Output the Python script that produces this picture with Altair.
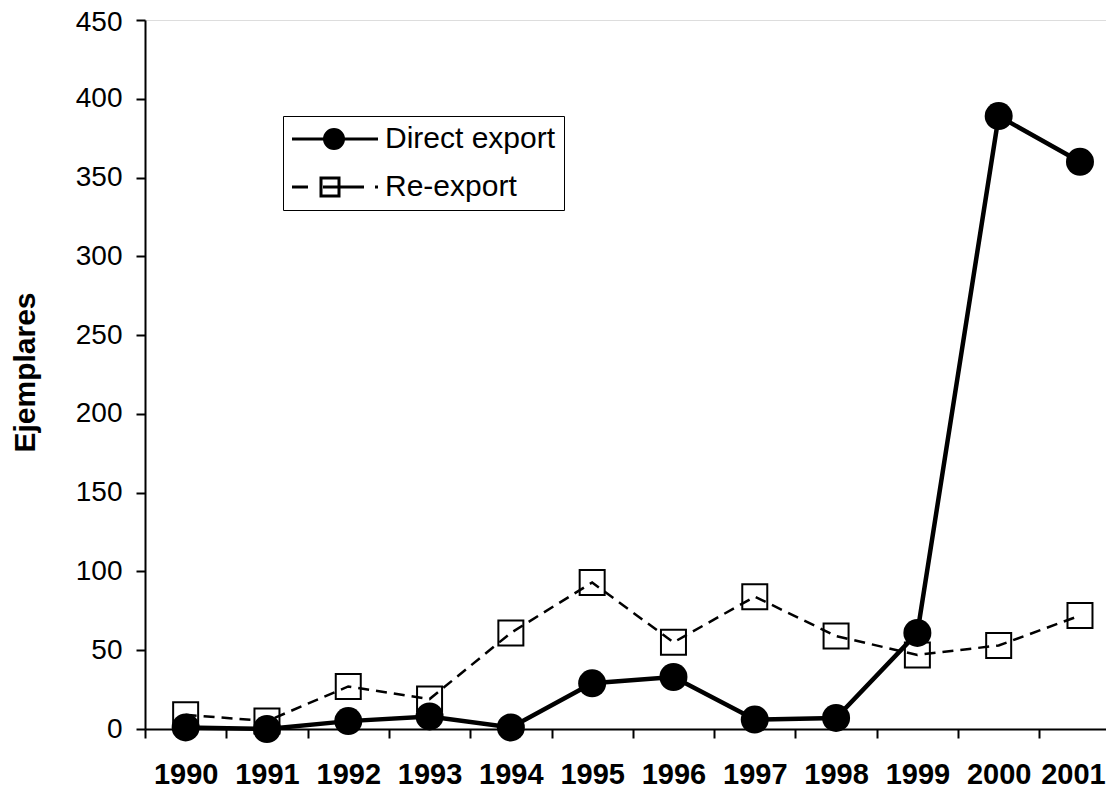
import altair as alt
import pandas as pd

years = [1990, 1991, 1992, 1993, 1994, 1995, 1996, 1997, 1998, 1999, 2000, 2001]
direct_export = [1, 0, 5, 8, 1, 29, 33, 6, 7, 61, 389, 360]
re_export = [9, 5, 27, 19, 61, 93, 55, 84, 59, 47, 53, 72]
series_names = ["Direct export", "Re-export"]

rows = []
for y, d, r in zip(years, direct_export, re_export):
    rows.append({"year": y, "value": d, "series": series_names[0]})
    rows.append({"year": y, "value": r, "series": series_names[1]})
df = pd.DataFrame(rows)

FONT = "Liberation Sans"
x_ticks = [y - 0.5 for y in years]
y_values = list(range(0, 451, 50))
x_scale = alt.Scale(domain=[1989.5, 2001.32], nice=False, zero=False)

# axis with the tick marks between the categories
x_tick_axis = alt.X(
    "year:Q",
    scale=x_scale,
    axis=alt.Axis(
        orient="bottom",
        values=x_ticks,
        title=None,
        grid=False,
        labels=False,
        tickSize=9,
        tickWidth=2,
        tickColor="black",
        domainColor="black",
        domainWidth=2,
    ),
)
# axis carrying only the year labels
x_label_axis = alt.X(
    "year:Q",
    scale=x_scale,
    axis=alt.Axis(
        orient="bottom",
        values=years,
        title=None,
        grid=False,
        ticks=False,
        domain=False,
        format="d",
        labelFont=FONT,
        labelFontSize=29,
        labelFontWeight="bold",
        labelColor="black",
        labelPadding=31,
        labelFlush=False,
        labelOverlap=False,
        labelOffset={"condition": {"test": f"datum.value == {years[-1]}", "value": -7}, "value": 0},
    ),
)
x_plain = alt.X("year:Q", scale=x_scale, axis=None)

y_enc = alt.Y(
    "value:Q",
    scale=alt.Scale(domain=[0, 450], nice=False),
    axis=alt.Axis(
        values=y_values,
        title="Ejemplares",
        grid=False,
        tickSize=9,
        tickWidth=2,
        tickColor="black",
        domainColor="black",
        domainWidth=2,
        labelFont=FONT,
        labelFontSize=28,
        labelColor="black",
        labelPadding=14,
        labelOffset={"condition": {"test": f"datum.value == {y_values[-1]}", "value": 2}, "value": 0},
        titleFont=FONT,
        titleFontSize=30,
        titleFontWeight="bold",
        titleColor="black",
        titleX=-120,
        titleY=352,
        titleAlign="center",
        titleBaseline="middle",
    ),
)

base = alt.Chart(df)

re_line = base.transform_filter(alt.datum.series == series_names[1]).mark_line(
    color="black", strokeWidth=2.5, strokeDash=[11, 7]
).encode(x=x_tick_axis, y=y_enc)

re_pts = base.transform_filter(alt.datum.series == series_names[1]).mark_point(
    shape="square", size=625, filled=False, stroke="black", strokeWidth=2, opacity=1
).encode(x=x_plain, y=y_enc)

dir_line = base.transform_filter(alt.datum.series == series_names[0]).mark_line(
    color="black", strokeWidth=4.5
).encode(x=x_label_axis, y=y_enc)

dir_pts = base.transform_filter(alt.datum.series == series_names[0]).mark_point(
    shape="circle", size=784, filled=True, color="black", opacity=1
).encode(x=x_plain, y=y_enc)

# legend symbols drawn in pixels (symbolSize 4 -> unit scale of 1 px)
def ring(cx, r):
    return (f"M{cx + r},0A{r},{r},0,1,1,{cx - r},0"
            f"A{r},{r},0,1,1,{cx + r},0Z")

direct_symbol = "M-14,0H72" + ring(28, 9.5) + ring(28, 7) + ring(28, 4.5) + ring(28, 2)
re_symbol = "M-14,0H2M17,0H58M69,0H72M15,-9H33V9H15Z"

legend_layer = base.transform_filter("false").mark_point(
    opacity=1, filled=False, stroke="black", strokeWidth=3
).encode(
    x=x_plain,
    y=y_enc,
    shape=alt.Shape(
        "series:N",
        scale=alt.Scale(domain=series_names, range=[direct_symbol, re_symbol]),
        legend=alt.Legend(
            title=None,
            orient="none",
            legendX=138,
            legendY=96,
            direction="vertical",
            strokeColor="black",
            fillColor="white",
            padding=8,
            symbolSize=4,
            symbolStrokeColor="black",
            symbolFillColor="transparent",
            symbolStrokeWidth=3,
            labelFont=FONT,
            labelFontSize=30,
            labelColor="black",
            labelOffset=64,
            rowPadding=17,
            labelLimit=400,
        ),
    ),
)

chart = (
    alt.layer(re_line, re_pts, dir_line, dir_pts, legend_layer)
    .resolve_axis(x="independent")
    .properties(
        width=961,
        height=709,
        autosize=alt.AutoSizeParams(type="none"),
        padding={"left": 137, "top": 12, "right": 0, "bottom": 62},
    )
    .configure_view(stroke=None)
    .configure(background="white")
)

chart.save("out.html", embed_options={"renderer": "svg", "actions": False})
